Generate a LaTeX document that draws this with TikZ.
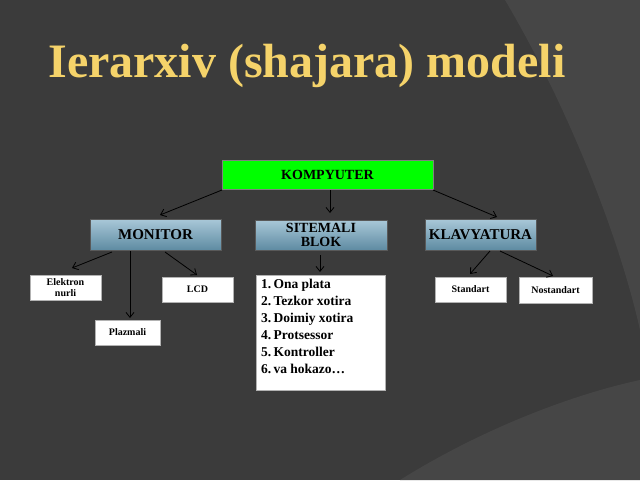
\documentclass[tikz,border=0pt]{standalone}
\usepackage{fontspec}
\setmainfont{Liberation Serif}
\usetikzlibrary{arrows.meta}
\definecolor{bg}{HTML}{3B3B3B}
\definecolor{bgl}{HTML}{464646}
\definecolor{ttl}{HTML}{F5D36A}
\definecolor{btop}{HTML}{A9C8D8}
\definecolor{bbot}{HTML}{5E8BA2}
\begin{document}
\begin{tikzpicture}[x=1pt,y=-1pt,
  wbox/.style={fill=white,draw=gray!60,font=\bfseries\fontsize{10}{11}\selectfont,align=center,inner sep=1pt},
  gbox/.style={top color=btop,bottom color=bbot,draw=gray!70!black,font=\bfseries\fontsize{15}{14}\selectfont,align=center,inner sep=1pt},
  arr/.style={draw=black,line width=0.8pt,-{Straight Barb[length=5pt,width=8pt]}}]
\fill[bg] (0,0) rectangle (640,480);
\fill[bgl] (505,0) .. controls (570,110) and (620,240) .. (640,330) -- (640,0) -- cycle;
\fill[bgl] (400,480) .. controls (480,430) and (570,395) .. (640,380) -- (640,480) -- cycle;
\useasboundingbox (0,0) rectangle (640,480);
\node[text=ttl,font=\bfseries\fontsize{48}{52}\selectfont] (title) at (307,66) {Ierarxiv (shajara) modeli};
\node[fill=green,draw=gray,minimum width=211pt,minimum height=29pt,font=\bfseries\fontsize{14}{14}\selectfont] (k) at (327.5,174.5) {KOMPYUTER};
\node[gbox,minimum width=131pt,minimum height=31pt] (m) at (155.5,234.5) {MONITOR};
\node[gbox,minimum width=132pt,minimum height=30pt] (s) at (321,235) {};
\node[font=\bfseries\fontsize{14}{14}\selectfont,align=center,inner sep=0pt] (st1) at (321,235) {SITEMALI\\BLOK};
\node[gbox,minimum width=111pt,minimum height=31pt] (kl) at (480.5,234.5) {KLAVYATURA};
\node[wbox,minimum width=71pt,minimum height=25pt] (e) at (65.5,287.5) {Elektron\\nurli};
\node[wbox,minimum width=71pt,minimum height=25pt] (l) at (197.5,289.5) {LCD};
\node[wbox,minimum width=65pt,minimum height=25pt] (p) at (127.5,332.5) {Plazmali};
\node[wbox,minimum width=71pt,minimum height=25pt] (st) at (470.5,289.5) {Standart};
\node[wbox,minimum width=73pt,minimum height=26pt] (n) at (555.5,290) {Nostandart};
\node[fill=white,draw=gray!60,minimum width=129pt,minimum height=115pt,anchor=north west,inner sep=0pt] (list) at (256,275) {};
\node[anchor=north west,align=left,font=\bfseries\fontsize{13.5}{17}\selectfont,inner sep=0pt] (lt) at (261,279) {1.\,Ona plata\\2.\,Tezkor xotira\\3.\,Doimiy xotira\\4.\,Protsessor\\5.\,Kontroller\\6.\,va hokazo\dots};
\coordinate (k1) at (222,190); \coordinate (k1e) at (160,215);
\coordinate (k2) at (330,190); \coordinate (k2e) at (330,213);
\coordinate (k3) at (433,190); \coordinate (k3e) at (497,217);
\coordinate (m1) at (112,252); \coordinate (m1e) at (72,268);
\coordinate (m2) at (130,251); \coordinate (m2e) at (130,318);
\coordinate (m3) at (165,252); \coordinate (m3e) at (197,275);
\coordinate (s1) at (320,255); \coordinate (s1e) at (320,272);
\coordinate (c1) at (490,251); \coordinate (c1e) at (470,274);
\coordinate (c2) at (500,251); \coordinate (c2e) at (553,276);
\foreach \a in {k1,k2,k3,m1,m2,m3,s1,c1,c2} \draw[arr] (\a) -- (\a e);
\end{tikzpicture}
\end{document}
